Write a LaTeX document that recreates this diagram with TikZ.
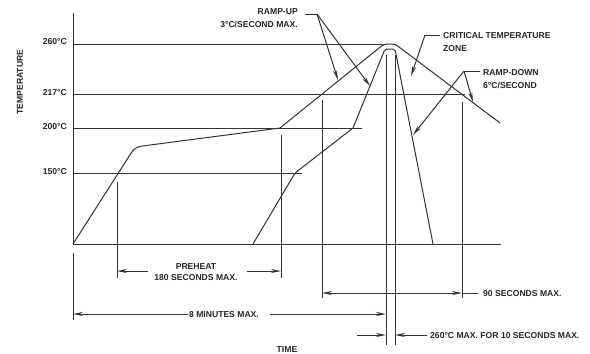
\documentclass[tikz,border=0pt]{standalone}
\usepackage{fontspec}
\setmainfont{Liberation Sans}
\usetikzlibrary{arrows.meta}
\begin{document}
\begin{tikzpicture}[x=1pt,y=-1pt,
  ln/.style={line width=1pt, draw=black!80},
  dimarrow/.style={ln, -{Stealth[length=10pt,width=4pt]}},
  dimboth/.style={ln, {Stealth[length=10pt,width=4pt]}-{Stealth[length=10pt,width=4pt]}},
  lbl/.style={font=\bfseries\fontsize{8.6}{13}\selectfont, text=black!85, inner sep=0pt},
]
\useasboundingbox (0,0) rectangle (590,354);

% axes
\coordinate (ytop) at (73,13);
\coordinate (orig) at (73,244);
\coordinate (xend) at (501,244);
\draw[ln] (ytop) -- (orig) -- (xend);

% temperature levels
\coordinate (h260a) at (73,44);  \coordinate (h260b) at (384,44);
\coordinate (h217a) at (73,94);  \coordinate (h217b) at (465,94);
\coordinate (h200a) at (73,128); \coordinate (h200b) at (362,128);
\coordinate (h150a) at (73,173); \coordinate (h150b) at (302,173);
\draw[ln] (h260a) -- (h260b);
\draw[ln] (h217a) -- (h217b);
\draw[ln] (h200a) -- (h200b);
\draw[ln] (h150a) -- (h150b);

% outer profile
\coordinate (o1) at (135,147);
\coordinate (o2) at (280,128);
\coordinate (o3) at (384,44);
\coordinate (o4) at (395,44);
\coordinate (o5) at (500,123);
\draw[ln, rounded corners=6pt] (orig) -- (o1) -- (o2);
\draw[ln, rounded corners=3pt] (o2) -- (o3) -- (o4) -- (o5);

% inner profile
\coordinate (i0) at (253,244);
\coordinate (i1) at (295,173);
\coordinate (i2) at (353,128);
\coordinate (i3) at (385,49);
\coordinate (i4) at (395,49);
\coordinate (i5) at (433,244);
\draw[ln, rounded corners=2pt] (i0) -- (i1) -- (i2);
\draw[ln, rounded corners=2pt] (i2) -- (i3) -- (i4) -- (i5);

% vertical extension lines
\coordinate (pl0) at (117,182); \coordinate (pl1) at (117,278);
\coordinate (pr0) at (281,135); \coordinate (pr1) at (281,278);
\coordinate (ml0) at (73,253);  \coordinate (ml1) at (73,320);
\coordinate (sl0) at (322,100); \coordinate (sl1) at (322,298);
\coordinate (sr0) at (462,102); \coordinate (sr1) at (462,298);
\coordinate (tl0) at (386,55);  \coordinate (tl1) at (386,345);
\coordinate (tr0) at (395,55);  \coordinate (tr1) at (395,345);
\draw[ln] (pl0) -- (pl1);
\draw[ln] (pr0) -- (pr1);
\draw[ln] (ml0) -- (ml1);
\draw[ln] (sl0) -- (sl1);
\draw[ln] (sr0) -- (sr1);
\draw[ln] (tl0) -- (tl1);
\draw[ln] (tr0) -- (tr1);

% axis labels
\node[lbl, rotate=90] (tlab) at (20,82) {TEMPERATURE};
\node[lbl] (xlab) at (287,350) {TIME};
\node[lbl, anchor=east] (t260) at (67,42) {260°C};
\node[lbl, anchor=east] (t217) at (67,93) {217°C};
\node[lbl, anchor=east] (t200) at (67,127) {200°C};
\node[lbl, anchor=east] (t150) at (67,172) {150°C};

% ramp-up callout
\node[lbl, anchor=east, align=right] (rup) at (298,18) {RAMP-UP\\3°C/SECOND MAX.};
\coordinate (ru0) at (305,14);
\coordinate (ru1) at (317,14);
\coordinate (ru2) at (338,80);
\coordinate (ru3) at (370,86);
\draw[ln] (ru0) -- (ru1);
\draw[dimarrow] (ru1) -- (ru2);
\draw[dimarrow] (ru1) -- (ru3);

% critical zone callout
\node[lbl, anchor=west, align=left] (crit) at (443,42) {CRITICAL TEMPERATURE\\ZONE};
\coordinate (cz0) at (440,35);
\coordinate (cz1) at (425,35);
\coordinate (cz2) at (411,76);
\draw[ln] (cz0) -- (cz1);
\draw[dimarrow] (cz1) -- (cz2);

% ramp-down callout
\node[lbl, anchor=west, align=left] (rdn) at (483,79) {RAMP-DOWN\\6°C/SECOND};
\coordinate (rd0) at (480,71);
\coordinate (rd1) at (464,71);
\coordinate (rd2) at (413,135);
\coordinate (rd3) at (473,102);
\draw[ln] (rd0) -- (rd1);
\draw[dimarrow] (rd1) -- (rd2);
\draw[dimarrow] (rd1) -- (rd3);

% preheat dimension
\node[lbl, align=center, font=\bfseries\fontsize{8.6}{11.5}\selectfont] (pre) at (196,272) {PREHEAT\\180 SECONDS MAX.};
\coordinate (pa0) at (148,271); \coordinate (pa1) at (117,271);
\coordinate (pb0) at (247,271); \coordinate (pb1) at (281,271);
\draw[dimarrow] (pa0) -- (pa1);
\draw[dimarrow] (pb0) -- (pb1);

% 8 minutes dimension
\node[lbl] (eight) at (224,315) {8 MINUTES MAX.};
\coordinate (ma0) at (188,314); \coordinate (ma1) at (73,314);
\coordinate (mb0) at (270,314); \coordinate (mb1) at (386,314);
\draw[dimarrow] (ma0) -- (ma1);
\draw[dimarrow] (mb0) -- (mb1);

% 90 seconds dimension
\node[lbl, anchor=west] (ninety) at (483,294) {90 SECONDS MAX.};
\coordinate (na0) at (322,293); \coordinate (na1) at (462,293);
\coordinate (na2) at (478,293);
\draw[dimboth] (na0) -- (na1);
\draw[ln] (na1) -- (na2);

% 10 seconds dimension
\node[lbl, anchor=west] (ten) at (430,336) {260°C MAX. FOR 10 SECONDS MAX.};
\coordinate (ta0) at (357,335); \coordinate (ta1) at (386,335);
\coordinate (tb0) at (427,335); \coordinate (tb1) at (395,335);
\draw[dimarrow] (ta0) -- (ta1);
\draw[dimarrow] (tb0) -- (tb1);
\end{tikzpicture}
\end{document}
